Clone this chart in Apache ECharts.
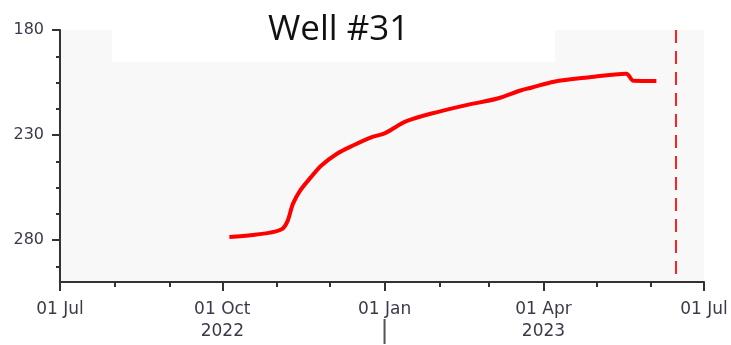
<!DOCTYPE html>
<html>
<head>
<meta charset="utf-8">
<script src="https://cdn.jsdelivr.net/npm/echarts@6/dist/echarts.min.js"></script>
<style>html,body{margin:0;padding:0;background:#fff}#c{width:731px;height:345px}</style>
</head>
<body>
<div id="c"></div>
<script>
const titleText = 'Well #31';
const dates = ['2022-10-05','2022-10-18','2022-10-28','2022-11-04','2022-11-07','2022-11-10','2022-11-14','2022-11-20','2022-11-26','2022-12-05','2022-12-14','2022-12-24','2023-01-01','2023-01-08','2023-01-13','2023-01-27','2023-02-15','2023-03-06','2023-03-19','2023-03-25','2023-04-07','2023-04-26','2023-05-18','2023-05-22','2023-06-04'];
const values = [278.6,277.6,276.5,274.7,270.9,262.8,256.6,250.3,244.6,238.9,235.0,231.2,229.2,225.8,223.5,219.9,216.0,212.6,208.8,207.5,204.6,202.6,200.8,204.2,204.3];
const markerDate = '2023-06-15';
const xMin = '2022-07-01', xMax = '2023-07-01';
const quarterTicks = ['2022-07-01','2022-10-01','2023-01-01','2023-04-01','2023-07-01'];
const quarterLabels = ['01 Jul\n ','01 Oct\n2022','01 Jan\n{b||}','01 Apr\n2023','01 Jul\n '];
const monthTicks = ['2022-08-01','2022-09-01','2022-11-01','2022-12-01','2023-02-01','2023-03-01','2023-05-01','2023-06-01'];
const yMin = 180, yMax = 300, yStep = 50;
const yMinorTicks = [192.5,205,217.5,242.5,255,267.5,292.5];

function ts(s){const p=s.split('-').map(Number);return Date.UTC(p[0],p[1]-1,p[2]);}
const labelMap = {};
quarterTicks.forEach((d,i)=>{labelMap[ts(d)]=quarterLabels[i];});

const chart = echarts.init(document.getElementById('c'));
const labelStyle = {color:'#3a3a4a', fontFamily:'DejaVu Sans', fontSize:16};
chart.setOption({
  animation:false,
  title:{text:titleText,left:263,top:8,z:30,textStyle:{fontFamily:'Open Sans',fontSize:35,fontWeight:'normal',color:'#111'}},
  grid:{left:60,right:27,top:30,bottom:63,show:true,backgroundColor:'#f8f8f8',borderWidth:0},
  graphic:[{type:'rect',left:112,top:0,z:1,shape:{width:443,height:62},style:{fill:'#ffffff'}}],
  xAxis:[{
    type:'value',min:ts(xMin),max:ts(xMax),scale:true,
    axisLine:{show:true,lineStyle:{color:'#333',width:2}},
    axisTick:{show:true,length:5,lineStyle:{color:'#333',width:2},customValues:monthTicks.map(ts)},
    axisLabel:Object.assign({},labelStyle,{fontSize:17,margin:17,lineHeight:22,customValues:quarterTicks.map(ts),
      showMinLabel:true,showMaxLabel:true,hideOverlap:false,
      rich:{b:{fontSize:24,lineHeight:22,color:'#555',fontFamily:'DejaVu Sans'}},
      formatter:v=>labelMap[v]||''}),
    splitLine:{show:false}
  },{
    type:'value',min:ts(xMin),max:ts(xMax),scale:true,position:'bottom',
    axisLine:{show:false},
    axisTick:{show:true,length:9,lineStyle:{color:'#333',width:2},customValues:quarterTicks.map(ts)},
    axisLabel:{show:false},splitLine:{show:false}
  }],
  yAxis:[{
    type:'value',inverse:true,min:yMin,max:yMax,interval:yStep,
    axisLine:{show:true,lineStyle:{color:'#333',width:2}},
    axisTick:{show:true,length:8,lineStyle:{color:'#333',width:2}},
    axisLabel:Object.assign({margin:16,showMaxLabel:false},labelStyle),
    splitLine:{show:false}
  },{
    type:'value',inverse:true,min:yMin,max:yMax,position:'left',
    axisLine:{show:false},
    axisTick:{show:true,length:4,lineStyle:{color:'#333',width:2},customValues:yMinorTicks},
    axisLabel:{show:false},splitLine:{show:false}
  }],
  series:[{
    type:'line',xAxisIndex:0,yAxisIndex:0,smooth:0.3,
    data:dates.map((d,i)=>[ts(d),values[i]]),
    showSymbol:false,symbol:'none',
    lineStyle:{color:'#ff0000',width:4},
    markLine:{silent:true,symbol:['none','none'],label:{show:false},
      lineStyle:{color:'#ff2020',width:2,type:[13,8]},
      data:[{xAxis:ts(markerDate)}]}
  }]
});
</script>
</body>
</html>
